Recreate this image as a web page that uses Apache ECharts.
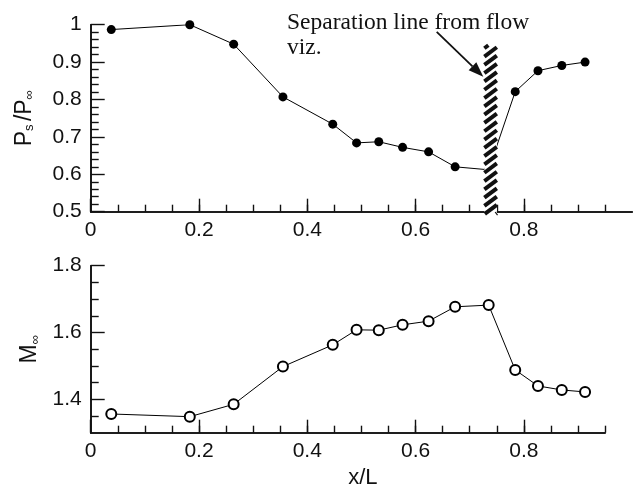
<!DOCTYPE html>
<html>
<head>
<meta charset="utf-8">
<script src="https://cdn.jsdelivr.net/npm/echarts@6/dist/echarts.min.js"></script>
<style>
  html, body { margin: 0; background: #fff; }
  #chart { width: 634px; height: 490px; }
</style>
</head>
<body>
<div id="chart"></div>
<script>
// measured stations along the model, x/L
const xL = [0.038, 0.183, 0.264, 0.355, 0.447, 0.491, 0.532, 0.576, 0.624, 0.673, 0.735, 0.784, 0.826, 0.870, 0.913];
// surface pressure ratio Ps/Pinf (filled dots)
const pressure = [0.987, 1.0, 0.948, 0.807, 0.734, 0.684, 0.687, 0.672, 0.660, 0.620, 0.612, 0.821, 0.877, 0.891, 0.900];
// local Mach number (open circles)
const mach = [1.356, 1.348, 1.385, 1.498, 1.563, 1.608, 1.607, 1.623, 1.634, 1.677, 1.682, 1.488, 1.440, 1.428, 1.422];

// tick values
const xMajor = [0, 0.2, 0.4, 0.6, 0.8];
const xMinor = [0.05, 0.1, 0.15, 0.2, 0.25, 0.3, 0.35, 0.4, 0.45, 0.5, 0.55, 0.6, 0.65, 0.7, 0.75, 0.8, 0.85, 0.9, 0.95];
const pMajor = [0.5, 0.6, 0.7, 0.8, 0.9, 1];
const pMinor = [0.52, 0.54, 0.56, 0.58, 0.62, 0.64, 0.66, 0.68, 0.72, 0.74, 0.76, 0.78,
  0.82, 0.84, 0.86, 0.88, 0.92, 0.94, 0.96, 0.98];
const mMajor = [1.4, 1.6, 1.8];
const mMinor = [1.35, 1.45, 1.5, 1.55, 1.65, 1.7, 1.75];

// separation line band (x range, y range) and the arrow pointing at it
const sepBand = [0.727, 0.750];
const sepSpan = [0.494, 0.945];
const arrowFrom = [0.639, 0.981];
const arrowTo = [0.725, 0.861];

const INK = "#111";
const SANS = "Liberation Sans, Arial, sans-serif";

function valueAxis(grid, pos, min, max, ticks, len, labels, margin) {
  return {
    type: "value",
    gridIndex: grid,
    position: pos,
    min: min,
    max: max,
    splitLine: { show: false },
    axisLine: { show: true, onZero: false, lineStyle: { color: INK, width: 1.6 } },
    axisTick: {
      show: true,
      inside: true,
      length: len,
      customValues: ticks,
      lineStyle: { color: INK, width: 1.4 },
    },
    axisLabel: labels
      ? { show: true, customValues: labels, margin: margin, fontSize: 21, color: INK, fontFamily: SANS }
      : { show: false },
  };
}

const xAxes = [
  valueAxis(0, "bottom", 0, 1, xMinor, 7),
  valueAxis(0, "bottom", 0, 1, xMajor, 13, xMajor, 8),
  valueAxis(1, "bottom", 0, 0.95, xMinor, 7),
  valueAxis(1, "bottom", 0, 0.95, xMajor, 13, xMajor, 8),
];
xAxes[3].name = "x/L";
xAxes[3].nameLocation = "middle";
xAxes[3].nameGap = 34;
xAxes[3].nameTextStyle = { fontSize: 22, color: INK, fontFamily: SANS, padding: [0, 0, 0, 30] };

const yAxes = [
  valueAxis(0, "left", 0.5, 1, pMinor, 8),
  valueAxis(0, "left", 0.5, 1, pMajor, 14, pMajor, 9),
  valueAxis(1, "left", 1.3, 1.8, mMinor, 8),
  valueAxis(1, "left", 1.3, 1.8, mMajor, 14, mMajor, 9),
];
const titleRich = {
  a: { fontSize: 23, color: INK, fontFamily: SANS, verticalAlign: "bottom", lineHeight: 25 },
  s: { fontSize: 13, color: INK, fontFamily: SANS, verticalAlign: "bottom", lineHeight: 13 },
};
yAxes[1].name = "{a|P}{s|s} {a|/P}{s|∞}";
yAxes[1].nameLocation = "middle";
yAxes[1].nameRotate = 90;
yAxes[1].nameGap = 55;
yAxes[1].nameTextStyle = { rich: titleRich };
yAxes[3].name = "{a|M}{s|∞}";
yAxes[3].nameLocation = "middle";
yAxes[3].nameRotate = 90;
yAxes[3].nameGap = 47;
yAxes[3].nameTextStyle = { rich: titleRich };

function hatchItem(params, api) {
  const tl = api.coord([api.value(0), api.value(3)]);
  const br = api.coord([api.value(1), api.value(2)]);
  const x0 = tl[0], y0 = tl[1], w = br[0] - tl[0], h = br[1] - tl[1];
  const children = [{ type: "rect", shape: { x: x0, y: y0, width: w, height: h }, style: { fill: "#fff" } }];
  const rise = 0.75 * w, step = 8.3;
  for (let c = y0 + 3; c < y0 + h + rise; c += step) {
    const t0 = Math.max(0, (c - (y0 + h)) / rise);
    const t1 = Math.min(1, (c - y0) / rise);
    if (t1 <= t0) continue;
    children.push({
      type: "line",
      shape: { x1: x0 + w * t0, y1: c - rise * t0, x2: x0 + w * t1, y2: c - rise * t1 },
      style: { stroke: INK, lineWidth: 4 },
    });
  }
  return { type: "group", children: children };
}

function arrowItem(params, api) {
  const a = api.coord([api.value(0), api.value(1)]);
  const b = api.coord([api.value(2), api.value(3)]);
  const dx = b[0] - a[0], dy = b[1] - a[1];
  const len = Math.hypot(dx, dy), ux = dx / len, uy = dy / len;
  const hl = 15, hw = 5.5;
  const bx = b[0] - ux * hl, by = b[1] - uy * hl;
  return {
    type: "group",
    children: [
      { type: "line", shape: { x1: a[0], y1: a[1], x2: bx, y2: by }, style: { stroke: INK, lineWidth: 1.8 } },
      {
        type: "polygon",
        shape: { points: [b, [bx - uy * hw, by + ux * hw], [bx + uy * hw, by - ux * hw]] },
        style: { fill: INK },
      },
    ],
  };
}

const chart = echarts.init(document.getElementById("chart"), null, { renderer: "canvas" });
chart.setOption({
  animation: false,
  backgroundColor: "#fff",
  grid: [
    { left: 90.7, top: 24.7, right: 1.8, bottom: 278.3 },
    { left: 90.7, top: 265.7, right: 28.9, bottom: 57.3 },
  ],
  xAxis: xAxes,
  yAxis: yAxes,
  graphic: [
    {
      type: "text",
      left: 287,
      top: 10,
      style: {
        text: "Separation line from flow\nviz.",
        font: "23.5px 'Liberation Serif', 'Times New Roman', serif",
        lineHeight: 25,
        fill: INK,
      },
    },
  ],
  series: [
    {
      type: "line",
      xAxisIndex: 1,
      yAxisIndex: 1,
      data: xL.map((x, i) => [x, pressure[i]]),
      symbol: "circle",
      symbolSize: 9,
      itemStyle: { color: "#000" },
      lineStyle: { color: "#000", width: 1 },
      z: 3,
    },
    {
      type: "custom",
      xAxisIndex: 1,
      yAxisIndex: 1,
      data: [[sepBand[0], sepBand[1], sepSpan[0], sepSpan[1]]],
      renderItem: hatchItem,
      z: 5,
    },
    {
      type: "custom",
      xAxisIndex: 1,
      yAxisIndex: 1,
      data: [[arrowFrom[0], arrowFrom[1], arrowTo[0], arrowTo[1]]],
      renderItem: arrowItem,
      z: 6,
    },
    {
      type: "line",
      xAxisIndex: 3,
      yAxisIndex: 3,
      data: xL.map((x, i) => [x, mach[i]]),
      symbol: "emptyCircle",
      symbolSize: 10,
      itemStyle: { color: "#000", borderWidth: 1 },
      lineStyle: { color: "#000", width: 1 },
      z: 3,
    },
  ],
});
</script>
</body>
</html>
